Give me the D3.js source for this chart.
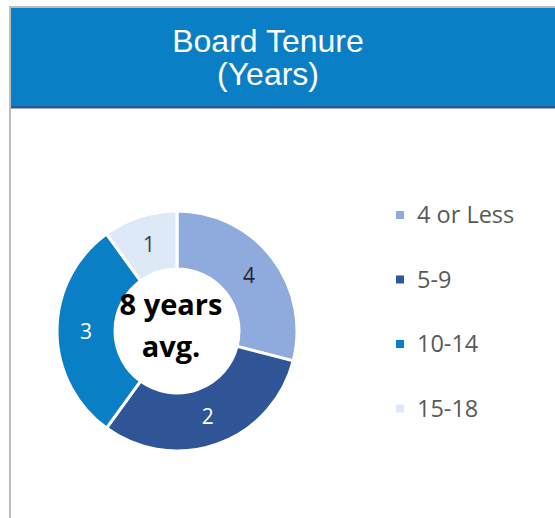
<!DOCTYPE html>
<html lang="en">
<head>
    <meta charset="UTF-8">
    <title>Board Tenure</title>
    <script src="https://cdn.jsdelivr.net/npm/d3@7"></script>
    <style>
        body { margin: 0; background: #fff; }
    </style>
</head>
<body>
    <svg width="555" height="518"></svg>
    <script>
        // data
        const categories = ["4 or Less", "5-9", "10-14", "15-18"];
        const sliceLabels = [4, 2, 3, 1];          // numbers printed on slices
        const sliceShares = [29, 31, 30, 10];      // slice sizes as drawn
        const colors = ["#8faadc", "#2f5597", "#0a7fc6", "#dde9f6"];
        const labelColors = ["#262626", "#ffffff", "#ffffff", "#404040"];
        const titleLines = ["Board Tenure", "(Years)"];
        const centerLines = ["8 years", "avg."];

        const svg = d3.select('svg');
        const width = +svg.attr('width');
        const height = +svg.attr('height');

        // frame + header band
        svg.append("rect")
            .attr("x", 10).attr("y", 7)
            .attr("width", width).attr("height", height)
            .attr("fill", "#fff")
            .attr("stroke", "#bdbdbd").attr("stroke-width", 2);
        svg.append("rect")
            .attr("x", 11).attr("y", 8)
            .attr("width", width - 11).attr("height", 98)
            .attr("fill", "#0a7fc6");
        svg.append("rect")
            .attr("x", 11).attr("y", 106)
            .attr("width", width - 11).attr("height", 2.5)
            .attr("fill", "#2f5597");

        svg.append("g").selectAll("text")
            .data(titleLines)
            .enter().append("text")
            .attr("x", 268)
            .attr("y", (d, i) => 52 + i * 33)
            .attr("text-anchor", "middle")
            .attr("fill", "#fff")
            .attr("font-family", "Liberation Sans, Arial, sans-serif")
            .attr("font-size", 32)
            .text(d => d);

        // donut
        const cx = 177, cy = 331, outerR = 120, innerR = 62;
        const pie = d3.pie().sort(null).value(d => d.share);
        const arc = d3.arc().innerRadius(innerR).outerRadius(outerR);
        const rows = categories.map((c, i) => ({ cat: c, share: sliceShares[i], label: sliceLabels[i], i: i }));

        const g = svg.append("g").attr("transform", "translate(" + cx + "," + cy + ")");
        const slices = g.selectAll("g.slice")
            .data(pie(rows))
            .enter().append("g").attr("class", "slice");
        slices.append("path")
            .attr("d", arc)
            .attr("fill", d => colors[d.data.i])
            .attr("stroke", "#fff")
            .attr("stroke-width", 3);
        slices.append("text")
            .attr("transform", d => "translate(" + arc.centroid(d) + ")")
            .attr("text-anchor", "middle")
            .attr("dy", "0.36em")
            .attr("fill", d => labelColors[d.data.i])
            .attr("font-family", "Open Sans, sans-serif")
            .attr("font-size", 21)
            .text(d => d.data.label);

        g.selectAll("text.center")
            .data(centerLines)
            .enter().append("text")
            .attr("class", "center")
            .attr("x", -6)
            .attr("y", (d, i) => -16 + i * 42)
            .attr("text-anchor", "middle")
            .attr("fill", "#000")
            .attr("font-family", "Open Sans, sans-serif")
            .attr("font-weight", "bold")
            .attr("font-size", 29)
            .text(d => d);

        // legend
        const legend = svg.append("g").selectAll("g")
            .data(categories)
            .enter().append("g")
            .attr("transform", (d, i) => "translate(396," + (215 + i * 64.5) + ")");
        legend.append("rect")
            .attr("x", 0).attr("y", -4)
            .attr("width", 8).attr("height", 8)
            .attr("fill", (d, i) => colors[i]);
        legend.append("text")
            .attr("x", 21)
            .attr("dy", "0.36em")
            .attr("fill", "#595959")
            .attr("font-family", "Open Sans, sans-serif")
            .attr("font-size", 23.5)
            .text(d => d);
    </script>
</body>
</html>
